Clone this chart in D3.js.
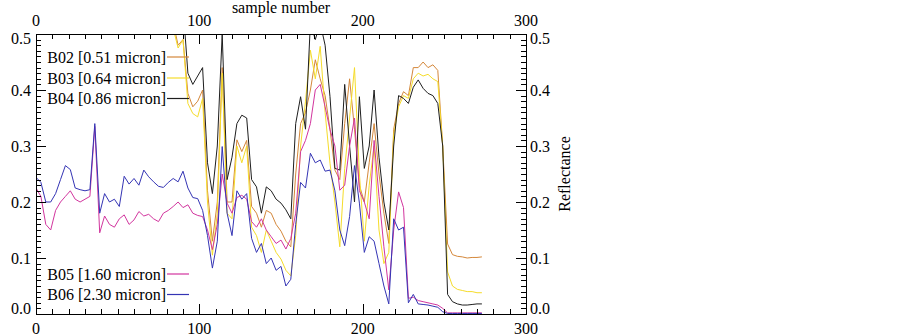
<!DOCTYPE html>
<html>
<head>
<meta charset="utf-8">
<script src="https://cdn.jsdelivr.net/npm/d3@7"></script>
<style>
  body { margin: 0; background: #fff; }
  text { font-family: "Liberation Serif", "Times New Roman", serif; }
</style>
</head>
<body>
<div id="container"></div>
<script>
/* CONSTANTS AND GLOBALS */
const width = 903;
const height = 336;
const plotLeft = 36, plotRight = 526, plotTop = 34, plotBottom = 314;

/* DATA (values above 0.5 are clipped by the frame) */
const sampleNumber = [
  0, 3, 6, 9, 12, 15, 18, 21, 24, 27,
  30, 33, 36, 39, 42, 45, 48, 51, 54, 57,
  60, 63, 66, 69, 72, 75, 78, 81, 84, 87,
  90, 93, 96, 99, 102, 105, 108, 111, 114, 117,
  120, 123, 126, 129, 132, 135, 138, 141, 144, 147,
  150, 153, 156, 159, 162, 165, 168, 171, 174, 177,
  180, 183, 186, 189, 192, 195, 198, 201, 204, 207,
  210, 213, 216, 219, 222, 225, 228, 231, 234, 237,
  240, 243, 246, 249, 252, 255, 258, 261, 264, 267,
  270, 273
];

const b02 = [
  0.58, 0.6, 0.6, 0.59, 0.6, 0.61, 0.6, 0.6, 0.59, 0.6,
  0.6, 0.6, 0.62, 0.6, 0.6, 0.6, 0.6, 0.6, 0.6, 0.6,
  0.6, 0.6, 0.6, 0.6, 0.6, 0.6, 0.6, 0.58, 0.52, 0.48,
  0.49, 0.394, 0.37, 0.38, 0.4, 0.22, 0.13, 0.2, 0.44, 0.2,
  0.2, 0.311, 0.29, 0.31, 0.192, 0.18, 0.155, 0.185, 0.18, 0.16,
  0.148, 0.13, 0.12, 0.25, 0.34, 0.36, 0.4, 0.454, 0.42, 0.39,
  0.33, 0.257, 0.24, 0.34, 0.42, 0.33, 0.23, 0.2, 0.27, 0.34,
  0.25, 0.18, 0.126, 0.33, 0.376, 0.397, 0.39, 0.44, 0.44, 0.45,
  0.44, 0.445, 0.435, 0.3, 0.125, 0.106, 0.103, 0.102, 0.1, 0.101,
  0.101, 0.102
];

const b03 = [
  0.6, 0.6, 0.61, 0.6, 0.6, 0.6, 0.6, 0.6, 0.6, 0.6,
  0.6, 0.6, 0.6, 0.6, 0.6, 0.6, 0.6, 0.6, 0.6, 0.6,
  0.6, 0.6, 0.6, 0.6, 0.6, 0.6, 0.6, 0.57, 0.51, 0.475,
  0.49, 0.376, 0.358, 0.352, 0.385, 0.2, 0.105, 0.18, 0.43, 0.18,
  0.17, 0.3, 0.27, 0.3, 0.155, 0.14, 0.11, 0.15, 0.13, 0.11,
  0.098, 0.078, 0.068, 0.14, 0.3, 0.38, 0.471, 0.42, 0.478, 0.36,
  0.269, 0.2, 0.12, 0.26, 0.35, 0.44, 0.25, 0.13, 0.23, 0.3,
  0.15, 0.09, 0.11, 0.32, 0.37, 0.39, 0.385, 0.42, 0.43, 0.425,
  0.428, 0.42, 0.415, 0.3, 0.075, 0.05, 0.044, 0.042, 0.04, 0.04,
  0.038, 0.038
];

const b04 = [
  0.6, 0.6, 0.6, 0.6, 0.6, 0.6, 0.6, 0.6, 0.6, 0.6,
  0.6, 0.6, 0.6, 0.6, 0.6, 0.6, 0.6, 0.6, 0.6, 0.6,
  0.6, 0.6, 0.6, 0.6, 0.6, 0.6, 0.6, 0.6, 0.6, 0.58,
  0.55, 0.43, 0.41, 0.425, 0.44, 0.27, 0.215, 0.3, 0.5, 0.24,
  0.28, 0.34, 0.355, 0.35, 0.24, 0.227, 0.18, 0.227, 0.22, 0.205,
  0.198, 0.186, 0.17, 0.34, 0.388, 0.33, 0.52, 0.49, 0.52, 0.48,
  0.388, 0.26, 0.257, 0.41, 0.3, 0.2, 0.388, 0.26, 0.3, 0.4,
  0.28, 0.2, 0.15, 0.3, 0.39, 0.385, 0.376, 0.405, 0.418, 0.403,
  0.394, 0.39, 0.376, 0.3, 0.035, 0.022, 0.018, 0.016, 0.016, 0.017,
  0.018, 0.018
];

const b05 = [
  0.225, 0.21, 0.16, 0.15, 0.185, 0.2, 0.21, 0.22, 0.205, 0.2,
  0.205, 0.21, 0.335, 0.145, 0.175, 0.16, 0.155, 0.17, 0.177, 0.16,
  0.168, 0.183, 0.175, 0.178, 0.17, 0.165, 0.18, 0.185, 0.192, 0.2,
  0.19, 0.195, 0.18, 0.176, 0.174, 0.15, 0.115, 0.16, 0.25, 0.198,
  0.18, 0.208, 0.212, 0.205, 0.165, 0.155, 0.17, 0.15, 0.138, 0.126,
  0.132, 0.116, 0.135, 0.18, 0.29, 0.31, 0.34, 0.4, 0.41, 0.37,
  0.329, 0.3, 0.221, 0.23, 0.3, 0.35, 0.22, 0.2, 0.17, 0.31,
  0.21, 0.12, 0.043, 0.15, 0.218, 0.19, 0.028, 0.03, 0.024, 0.022,
  0.02, 0.018, 0.016, 0.01, 0.002, 0.002, 0.002, 0.002, 0.002, 0.002,
  0.002, 0.002
];

const b06 = [
  0.244, 0.235, 0.2, 0.2, 0.215, 0.24, 0.265, 0.258, 0.225, 0.222,
  0.22, 0.222, 0.34, 0.18, 0.215, 0.2, 0.205, 0.192, 0.246, 0.232,
  0.242, 0.23, 0.257, 0.245, 0.236, 0.228, 0.226, 0.235, 0.242, 0.236,
  0.255, 0.225, 0.208, 0.206, 0.185, 0.14, 0.082, 0.13, 0.299, 0.18,
  0.14, 0.22, 0.205, 0.215, 0.135, 0.11, 0.126, 0.09, 0.1, 0.078,
  0.085, 0.05, 0.062, 0.16, 0.235, 0.225, 0.287, 0.27, 0.275, 0.255,
  0.257, 0.22, 0.15, 0.122, 0.174, 0.265, 0.198, 0.11, 0.138, 0.13,
  0.09, 0.05, 0.018, 0.17, 0.15, 0.155, 0.02, 0.035, 0.018, 0.017,
  0.016, 0.014, 0.012, 0.004, 0.001, 0.001, 0.001, 0.001, 0.001, 0.001,
  0.001, 0.001
];

const bandLabels = ["B02 [0.51 micron]", "B03 [0.64 micron]", "B04 [0.86 micron]",
                    "B05 [1.60 micron]", "B06 [2.30 micron]"];
const bandColors = ["#d4873a", "#f5dc2a", "#1e1e1e", "#d2359e", "#3434b4"];
const xTicks = [0, 100, 200, 300];
const yTicks = [0, 0.1, 0.2, 0.3, 0.4, 0.5];

const series = [b02, b03, b04, b05, b06].map((vals, i) => ({
  label: bandLabels[i],
  color: bandColors[i],
  values: vals.map((v, j) => ({ s: sampleNumber[j], v: v }))
}));

/* SVG */
const svg = d3.select("#container").append("svg")
  .attr("width", width)
  .attr("height", height);

svg.append("rect").attr("width", width).attr("height", height).attr("fill", "#fff");

/* SCALES */
const xScale = d3.scaleLinear().domain([0, 300]).range([plotLeft, plotRight]);
const yScale = d3.scaleLinear().domain([0, 0.5]).range([plotBottom, plotTop]);

svg.append("clipPath").attr("id", "plotclip")
  .append("rect")
  .attr("x", plotLeft).attr("y", plotTop)
  .attr("width", plotRight - plotLeft).attr("height", plotBottom - plotTop);

/* LINES */
const line = d3.line()
  .x(d => xScale(d.s))
  .y(d => yScale(d.v));

svg.append("g").attr("clip-path", "url(#plotclip)")
  .selectAll("path.band")
  .data(series)
  .join("path")
  .attr("class", "band")
  .attr("d", d => line(d.values))
  .attr("fill", "none")
  .attr("stroke", d => d.color)
  .attr("stroke-width", 1);

/* TICKS (inward, drawn by hand from the scales) */
const minorX = d3.range(0, 301, 10);
const minorY = d3.range(0, 51).map(i => i / 100);
const tickG = svg.append("g").attr("stroke", "#000").attr("stroke-width", 1);
const px = v => Math.round(v) + 0.5;
const isMajorX = d => d % 100 === 0;
const isMajorY = d => Math.round(d * 100) % 10 === 0;

tickG.selectAll("line.xt").data(minorX).join("line").attr("class", "xt")
  .attr("x1", d => px(xScale(d))).attr("x2", d => px(xScale(d)))
  .attr("y1", plotTop).attr("y2", d => plotTop + (isMajorX(d) ? 10 : 5));
tickG.selectAll("line.xb").data(minorX).join("line").attr("class", "xb")
  .attr("x1", d => px(xScale(d))).attr("x2", d => px(xScale(d)))
  .attr("y1", plotBottom).attr("y2", d => plotBottom - (isMajorX(d) ? 10 : 5));
tickG.selectAll("line.yl").data(minorY).join("line").attr("class", "yl")
  .attr("y1", d => px(yScale(d))).attr("y2", d => px(yScale(d)))
  .attr("x1", plotLeft).attr("x2", d => plotLeft + (isMajorY(d) ? 10 : 5));
tickG.selectAll("line.yr").data(minorY).join("line").attr("class", "yr")
  .attr("y1", d => px(yScale(d))).attr("y2", d => px(yScale(d)))
  .attr("x1", plotRight).attr("x2", d => plotRight - (isMajorY(d) ? 10 : 5));

/* TICK LABELS */
const fmtY = d3.format(".1f");
const yShift = d => d === 0.5 ? 4 : (d === 0 ? -6 : 0);

svg.append("g").selectAll("text").data(xTicks).join("text")
  .attr("x", d => xScale(d)).attr("y", plotTop - 8)
  .attr("text-anchor", "middle").attr("font-size", 16)
  .text(d => d);
svg.append("g").selectAll("text").data(xTicks).join("text")
  .attr("x", d => xScale(d)).attr("y", plotBottom + 20)
  .attr("text-anchor", "middle").attr("font-size", 16)
  .text(d => d);
svg.append("g").selectAll("text").data(yTicks).join("text")
  .attr("x", plotLeft - 5).attr("y", d => yScale(d) + yShift(d))
  .attr("dy", "0.35em")
  .attr("text-anchor", "end").attr("font-size", 16)
  .text(fmtY);
svg.append("g").selectAll("text").data(yTicks).join("text")
  .attr("x", plotRight + 4).attr("y", d => yScale(d) + yShift(d))
  .attr("dy", "0.35em")
  .attr("text-anchor", "start").attr("font-size", 16)
  .text(fmtY);

// frame
svg.append("rect")
  .attr("x", plotLeft + 0.5).attr("y", plotTop + 0.5)
  .attr("width", plotRight - plotLeft).attr("height", plotBottom - plotTop)
  .attr("fill", "none").attr("stroke", "#000").attr("stroke-width", 1);

/* TITLES */
svg.append("text")
  .attr("x", (plotLeft + plotRight) / 2).attr("y", 13)
  .attr("text-anchor", "middle")
  .attr("font-size", 16)
  .text("sample number");

svg.append("text")
  .attr("transform", `translate(570,${(plotTop + plotBottom) / 2}) rotate(-90)`)
  .attr("text-anchor", "middle")
  .attr("font-size", 16)
  .text("Reflectance");

/* LEGEND */
const legendY = [57, 78, 98.5, 274, 294.5];
const legend = svg.append("g").selectAll("g.item")
  .data(series)
  .join("g")
  .attr("class", "item")
  .attr("transform", (d, i) => `translate(166,${legendY[i]})`);

legend.append("text")
  .attr("x", 0).attr("dy", "0.35em")
  .attr("text-anchor", "end")
  .attr("font-size", 16)
  .text(d => d.label);
legend.append("line")
  .attr("x1", 1).attr("x2", 23)
  .attr("stroke", d => d.color)
  .attr("stroke-width", 1.2);
</script>
</body>
</html>
